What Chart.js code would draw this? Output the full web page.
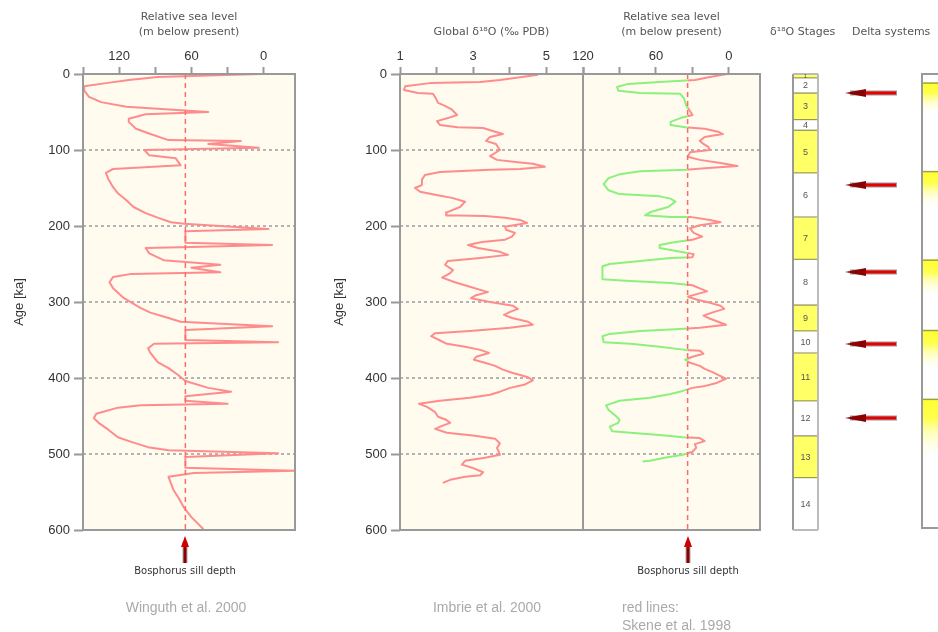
<!DOCTYPE html>
<html><head><meta charset="utf-8">
<script src="https://cdn.jsdelivr.net/npm/chart.js@4.4.1/dist/chart.umd.min.js"></script>
<style>
html,body{margin:0;padding:0;background:#fff;overflow:hidden;width:938px;height:632px;}
canvas{position:absolute;left:0;top:0;}
.t{position:absolute;white-space:nowrap;line-height:16px;}
</style></head><body>
<canvas id="cA" width="938" height="632"></canvas>
<canvas id="cB" width="938" height="632"></canvas>
<canvas id="cC" width="938" height="632"></canvas>
<canvas id="cS" width="938" height="632"></canvas>
<canvas id="cD" width="938" height="632"></canvas>
<div class="t" style="left:770px;top:25px;font:11px 'DejaVu Sans',sans-serif;color:#555">δ¹⁸O Stages</div>
<div class="t" style="left:852px;top:25px;font:11px 'DejaVu Sans',sans-serif;color:#555">Delta systems</div>
<div class="t" style="left:86px;width:200px;text-align:center;top:599px;font:14px 'Liberation Sans',Arial,sans-serif;color:#aaa">Winguth et al. 2000</div>
<div class="t" style="left:387px;width:200px;text-align:center;top:599px;font:14px 'Liberation Sans',Arial,sans-serif;color:#aaa">Imbrie et al. 2000</div>
<div class="t" style="left:622px;top:599px;font:14px 'Liberation Sans',Arial,sans-serif;color:#aaa">red lines:</div>
<div class="t" style="left:622px;top:617px;font:14px 'Liberation Sans',Arial,sans-serif;color:#aaa">Skene et al. 1998</div>
<script>
// ---------- data ----------
const ageTicks = [0,100,200,300,400,500,600];
const ageGrid = [100,200,300,400,500];
const seaTicksLeft = [0,30,60,90,120,150];
const seaTicksRight = [0,30,60,90,120];
const seaLabels = [0,60,120];
const d18OTicks = [1,2,3,4,5,6];
const d18OLabels = [1,3,5];
const sillDepthLeft = 65;
const sillDepthRight = 34;

const wingAge = [0,4,8,12,16,22,30,37,43,46,
 50,53,59,63,72,79,87,88,92,97,
 100,107,111,120,125,130,138,149,157,166,
 175,183,189,195,197,204,207,222,225,228,
 229,236,245,251,255,261,263,267,274,282,
 295,308,314,321,326,332,337,350,353,355,
 361,367,379,387,396,404,413,418,424,430,
 434,436,439,447,453,459,468,478,484,491,
 495,499,504,518,522,525,530,547,557,571,
 583,591,599];
const wingLevel = [2.5,88,112,131,149,149,145,135,114,85,
 46,98,112,112,106,94,79,19,46,4,
 99,95,73,69,125,131,129,125,121,114,
 108,98,88,77,66,-4,65,65,-7,69,
 98,95,83,36,60,36,110,125,128,125,
 116,102,94,79,69,-7,65,65,-12,91,
 96,94,88,79,71,65,46,27,65,65,
 30,102,121,139,141,137,129,121,110,96,
 79,-12,65,65,-26,58,79,75,71,66,
 60,55,50];

const imbrieAge = [1,4,8,10.5,12,16,21,25,26,32,
 38,42,47,54,58,62,67,70,71,76,
 79,83,88,92,100,108,113,116,118,122,
 125,126,129,133,139,146,150,155,159,163,
 168,175,182,186,187,189,192,196,201,205,
 209,214,218,221,225,229,234,238,242,246,
 251,258,262,268,274,280,287,291,295,300,
 305,309,313,317,321,326,330,334,338,341,
 345,350,355,359,363,367,372,376,380,384,
 389,393,399,403,409,413,418,422,426,430,
 434,438,445,451,455,459,463,467,472,476,
 480,486,492,497,501,505,509,514,518,524,
 528,530,534,538];
const imbrieD18O = [4.77,4.33,3.73,3.19,1.82,1.14,1.11,1.49,1.90,1.98,
 2.04,2.23,2.42,2.56,2.31,2.01,2.09,2.58,3.27,3.60,
 3.81,3.46,3.35,3.62,3.73,3.46,3.65,4.22,4.63,4.96,
 4.28,3.46,2.09,1.68,1.60,1.60,1.41,1.55,1.96,2.42,
 2.78,2.64,2.28,2.26,3.32,3.87,4.28,4.47,3.87,3.90,
 4.14,4.06,3.87,3.24,2.86,3.13,3.73,3.95,3.19,2.31,
 2.23,2.45,2.37,2.15,2.50,2.91,3.40,3.08,2.94,3.46,
 4.09,4.22,4.01,3.84,4.06,4.50,4.63,4.01,2.91,1.96,
 1.85,2.07,2.28,2.78,3.19,3.43,3.08,3.02,3.32,3.60,
 3.81,4.06,4.50,4.63,4.39,4.01,3.73,3.46,2.91,2.09,
 1.52,1.74,1.96,2.04,2.26,2.37,2.15,1.96,2.28,3.05,
 3.60,3.73,3.65,3.70,3.73,3.32,2.78,2.69,2.97,3.27,
 3.19,2.78,2.37,2.17];

const skeneAge = [0,4,8,10.5,13,17,22,25,26,32,
 42,49,54,58,63,67,70,72,76,79,
 83,88,92,96,100,103,109,113,117,121,
 124,126,128,132,137,145,153,158,161,164,
 168,175,182,186,188,188,192,195,199,203,
 209,214,218,221,225,229,234,237,241,242,
 246,250,253,270,272,275,278,282,286,289,
 293,297,301,305,309,314,318,321,326,330,
 334,336,338,342,345,353,355,359,363,364,
 368,372,376,380,384,388,392,396,401,407,
 411,413,417,421,426,430,436,442,446,450,
 455,459,464,470,472,475,478,479,483,487,
 492,497,501,505,509,510];
const skeneLevel = [1.6,15.6,28,57,83,92,91,73,40,37,
 35,32,30,40,48,48,36,20,9,5,
 20,24,21,17,15.6,32,34,24,7,-7,
 20,35,73,90,99,103,99,90,57,48,
 44,50,65,69,48,32,15.6,7,24,32,
 29,22,30,44,57,57,40,29,30,48,
 73,98,104,104,85,48,30,24,18,25,
 34,26,15.6,7,4,14,21,17,9,2.5,
 24,44,73,98,104,103,81,57,36,24,
 21,30,36,32,24,20,14,9,2.5,11,
 21,30,38,48,65,90,101,99,96,93,
 90,91,98,96,81,57,38,24,20,28,
 27,30,38,53,65,71];

const stageNumbers = [1,2,3,4,5,6,7,8,9,10,11,12,13,14];
const stageStart = [0,5,25,60,74,130,188,244,304,338,367,430,476,531];
const stageEnd   = [5,25,60,74,130,188,244,304,338,367,430,476,531,600];

const deltaStart = [12,129,246,339,430];
const deltaEnd   = [51,174,292,389,504];
const arrowAges  = [25,147,262,357,455];

// ---------- styles ----------
const W = 938, H = 632;
const CREAM = '#fffbee';
const LINE_RED = '#ff8c8c';
const LINE_GREEN = '#8cf07c';
Chart.defaults.font.family = '"Liberation Sans", Arial, sans-serif';
Chart.defaults.color = '#333';

function fixedTicks(list){ return s => { s.ticks = list.map(v => ({value: v})); }; }

function frame(sides, grid){
  return {
    id: 'frame',
    beforeDraw(chart){
      const {ctx, chartArea: a} = chart;
      ctx.save();
      ctx.fillStyle = CREAM;
      ctx.fillRect(a.left, a.top, a.right - a.left, a.bottom - a.top);
      if (grid) {
        const ys = chart.scales.y;
        ctx.setLineDash([3,3]);
        ctx.strokeStyle = '#b4b4b4';
        ctx.lineWidth = 2;
        grid.forEach(v => {
          const y = Math.round(ys.getPixelForValue(v));
          ctx.beginPath(); ctx.moveTo(a.left, y); ctx.lineTo(a.right, y); ctx.stroke();
        });
      }
      ctx.restore();
    },
    afterDatasetsDraw(chart){
      const {ctx, chartArea: a} = chart;
      ctx.save();
      ctx.strokeStyle = '#999';
      ctx.lineWidth = 2;
      ctx.beginPath();
      if (sides.includes('t')) { ctx.moveTo(a.left-1, a.top); ctx.lineTo(a.right+1, a.top); }
      if (sides.includes('b')) { ctx.moveTo(a.left-1, a.bottom); ctx.lineTo(a.right+1, a.bottom); }
      if (sides.includes('l')) { ctx.moveTo(a.left, a.top); ctx.lineTo(a.left, a.bottom); }
      if (sides.includes('r')) { ctx.moveTo(a.right, a.top); ctx.lineTo(a.right, a.bottom); }
      ctx.stroke();
      ctx.restore();
    }
  };
}

function sillArrow(sill){
  return {
    id: 'sillArrow',
    afterDraw(chart){
      const {ctx, chartArea: a} = chart;
      const x = Math.round(chart.scales.x.getPixelForValue(sill));
      const y0 = a.bottom + 6, y1 = a.bottom + 33;
      ctx.save();
      ctx.lineCap = 'butt';
      ctx.strokeStyle = '#a8a8a8'; ctx.lineWidth = 5;
      ctx.beginPath(); ctx.moveTo(x, y0 + 6); ctx.lineTo(x, y1); ctx.stroke();
      ctx.strokeStyle = '#8b0000'; ctx.lineWidth = 3;
      ctx.beginPath(); ctx.moveTo(x, y0 + 8); ctx.lineTo(x, y1); ctx.stroke();
      ctx.fillStyle = '#d00000';
      ctx.beginPath(); ctx.moveTo(x, y0); ctx.lineTo(x - 4, y0 + 11); ctx.lineTo(x + 4, y0 + 11); ctx.closePath(); ctx.fill();
      ctx.fillStyle = '#333';
      ctx.font = '10px "DejaVu Sans", sans-serif';
      ctx.textAlign = 'center'; ctx.textBaseline = 'middle';
      ctx.fillText('Bosphorus sill depth', x, a.bottom + 41);
      ctx.restore();
    }
  };
}

function pts(xs, ys){ return xs.map((v, i) => ({x: v, y: ys[i]})); }

const baseOpts = {
  responsive: false, animation: false, events: [],
  plugins: {legend: {display: false}, tooltip: {enabled: false}}
};

function yAxis(width, show){
  if (!show) return {type:'linear', display:false, min:0, max:600, reverse:true};
  return {
    type:'linear', min:0, max:600, reverse:true,
    afterBuildTicks: fixedTicks(ageTicks),
    afterFit: s => { s.width = width; },
    ticks: {font:{size:13}, color:'#333', padding:4},
    grid: {drawOnChartArea:false, drawTicks:true, tickLength:9, tickColor:'#999', tickWidth:2},
    border: {display:false},
    title: {display:true, text:'Age [ka]', font:{size:13}, color:'#333', padding:{top:12, bottom:0}}
  };
}
function xAxis(min, max, reverse, ticks, labels, title, titlePad){
  return {
    type:'linear', position:'top', min, max, reverse,
    afterBuildTicks: fixedTicks(ticks),
    afterFit: s => { s.height = 74; },
    ticks: {callback: v => labels.includes(v) ? String(v) : '', font:{size:13}, color:'#333', padding:3, maxRotation:0, autoSkip:false},
    grid: {drawOnChartArea:false, drawTicks:true, tickLength:7, tickColor:'#999', tickWidth:2},
    border: {display:false},
    title: {display:true, text:title, font:{family:'"DejaVu Sans", sans-serif', size:11, lineHeight:1.36}, color:'#555', padding:{top:titlePad, bottom:0}}
  };
}

// ---------- chart A: Winguth sea level ----------
new Chart(document.getElementById('cA'), {
  type: 'scatter',
  data: {datasets: [
    {data: [{x:sillDepthLeft, y:0},{x:sillDepthLeft, y:600}], showLine:true, borderColor:'#ff6b6b', borderDash:[5,4], borderWidth:1.5, pointRadius:0, order:0},
    {data: pts(wingLevel, wingAge), showLine:true, borderColor:LINE_RED, borderWidth:2, borderJoinStyle:'round', pointRadius:0, order:1}
  ]},
  options: Object.assign({}, baseOpts, {
    layout: {padding: {left:0, right:W-295, top:0, bottom:H-530}},
    scales: {
      x: xAxis(-26, 150, true, seaTicksLeft, seaLabels, ['Relative sea level','(m below present)'], 9.5),
      y: yAxis(83, true)
    }
  }),
  plugins: [frame('tblr', ageGrid), sillArrow(sillDepthLeft)]
});

// ---------- chart B: Imbrie d18O ----------
new Chart(document.getElementById('cB'), {
  type: 'scatter',
  data: {datasets: [
    {data: pts(imbrieD18O, imbrieAge), showLine:true, borderColor:LINE_RED, borderWidth:2, borderJoinStyle:'round', pointRadius:0}
  ]},
  options: Object.assign({}, baseOpts, {
    layout: {padding: {left:320, right:W-583, top:0, bottom:H-530}},
    scales: {
      x: xAxis(1, 6, false, d18OTicks, d18OLabels, 'Global δ¹⁸O (‰ PDB)', 24.5),
      y: yAxis(80, true)
    }
  }),
  plugins: [frame('tblr', ageGrid)]
});

// ---------- chart C: Skene sea level ----------
function sillGradient(ctx){
  const c = ctx.chart, a = c.chartArea;
  if (!a || !c.scales.x) return LINE_RED;
  const px = c.scales.x.getPixelForValue(sillDepthRight);
  const f = Math.min(1, Math.max(0, (px - a.left) / (a.right - a.left)));
  const g = c.ctx.createLinearGradient(a.left, 0, a.right, 0);
  g.addColorStop(0, LINE_GREEN); g.addColorStop(f, LINE_GREEN);
  g.addColorStop(f, LINE_RED); g.addColorStop(1, LINE_RED);
  return g;
}
new Chart(document.getElementById('cC'), {
  type: 'scatter',
  data: {datasets: [
    {data: [{x:sillDepthRight, y:0},{x:sillDepthRight, y:600}], showLine:true, borderColor:'#ff6b6b', borderDash:[5,4], borderWidth:1.5, pointRadius:0, order:0},
    {data: pts(skeneLevel, skeneAge), showLine:true, borderColor:sillGradient, borderWidth:2, borderJoinStyle:'round', pointRadius:0, order:1}
  ]},
  options: Object.assign({}, baseOpts, {
    layout: {padding: {left:583, right:W-760, top:0, bottom:H-530}},
    scales: {
      x: xAxis(-25.5, 120, true, seaTicksRight, seaLabels, ['Relative sea level','(m below present)'], 9.5),
      y: yAxis(0, false)
    }
  }),
  plugins: [frame('tblr', ageGrid), sillArrow(sillDepthRight)]
});

// ---------- chart S: isotope stages ----------
new Chart(document.getElementById('cS'), {
  type: 'bar',
  data: {
    labels: ['MIS'],
    datasets: stageNumbers.map((n, i) => ({
      label: String(n),
      data: [[stageStart[i], stageEnd[i]]],
      backgroundColor: n % 2 ? '#ffff66' : '#ffffff',
      borderColor: n % 2 ? '#9c9c3a' : '#a8a8a8',
      borderWidth: 1, borderSkipped: false, grouped: false,
      barPercentage: 1, categoryPercentage: 1
    }))
  },
  options: Object.assign({}, baseOpts, {
    layout: {padding: {left:793, right:W-818, top:74, bottom:H-530}},
    scales: {
      x: {display:false},
      y: {display:false, min:0, max:600, reverse:true}
    }
  }),
  plugins: [{
    id: 'stageLabels',
    afterDatasetsDraw(chart){
      const {ctx, chartArea: a} = chart;
      const ys = chart.scales.y;
      ctx.save();
      ctx.strokeStyle = '#999'; ctx.lineWidth = 2;
      ctx.beginPath(); ctx.moveTo(a.left, a.top); ctx.lineTo(a.left, a.bottom); ctx.stroke();
      ctx.strokeStyle = '#bbb';
      ctx.beginPath(); ctx.moveTo(a.right, a.top); ctx.lineTo(a.right, a.bottom);
      ctx.moveTo(a.left, a.top); ctx.lineTo(a.right, a.top);
      ctx.moveTo(a.left, a.bottom); ctx.lineTo(a.right, a.bottom); ctx.stroke();
      ctx.fillStyle = '#555';
      ctx.textAlign = 'center'; ctx.textBaseline = 'middle';
      stageNumbers.forEach((n, i) => {
        const y0 = ys.getPixelForValue(stageStart[i]), y1 = ys.getPixelForValue(stageEnd[i]);
        ctx.font = (y1 - y0 < 10 ? 6 : 9) + 'px "Liberation Sans", Arial, sans-serif';
        ctx.fillText(String(n), (a.left + a.right) / 2, (y0 + y1) / 2 + 0.5);
      });
      ctx.restore();
    }
  }]
});

// ---------- chart D: delta systems ----------
function deltaFill(ctx){
  const c = ctx.chart, raw = ctx.raw;
  if (!c.chartArea || !raw || !c.scales.y) return '#ffff44';
  const y0 = c.scales.y.getPixelForValue(raw[0]), y1 = c.scales.y.getPixelForValue(raw[1]);
  const g = c.ctx.createLinearGradient(0, y0, 0, y1);
  g.addColorStop(0, '#ffff30');
  g.addColorStop(0.35, '#ffff50');
  g.addColorStop(0.6, 'rgba(255,255,140,0.6)');
  g.addColorStop(1, 'rgba(255,255,200,0)');
  return g;
}
new Chart(document.getElementById('cD'), {
  type: 'bar',
  data: {
    labels: ['Delta'],
    datasets: deltaStart.map((s, i) => ({
      data: [[s, deltaEnd[i]]],
      backgroundColor: deltaFill, borderWidth: 0, grouped: false,
      barPercentage: 1, categoryPercentage: 1
    }))
  },
  options: Object.assign({}, baseOpts, {
    layout: {padding: {left:922, right:0, top:74, bottom:H-528}},
    scales: {
      x: {display:false},
      y: {display:false, min:0, max:600, reverse:true}
    }
  }),
  plugins: [{
    id: 'deltaDeco',
    afterDraw(chart){
      const {ctx, chartArea: a} = chart;
      const ys = chart.scales.y;
      ctx.save();
      ctx.strokeStyle = '#999'; ctx.lineWidth = 2;
      ctx.beginPath();
      ctx.moveTo(W, a.top); ctx.lineTo(a.left, a.top); ctx.lineTo(a.left, a.bottom); ctx.lineTo(W, a.bottom);
      ctx.stroke();
      ctx.strokeStyle = '#a0a040'; ctx.lineWidth = 1.5;
      deltaStart.forEach(s => {
        const y = ys.getPixelForValue(s);
        ctx.beginPath(); ctx.moveTo(a.left + 1, y); ctx.lineTo(W, y); ctx.stroke();
      });
      arrowAges.forEach(age => {
        const y = Math.round(ys.getPixelForValue(age));
        ctx.lineCap = 'butt';
        ctx.strokeStyle = '#9a9a9a'; ctx.lineWidth = 5;
        ctx.beginPath(); ctx.moveTo(850, y); ctx.lineTo(897, y); ctx.stroke();
        ctx.strokeStyle = '#e80000'; ctx.lineWidth = 3;
        ctx.beginPath(); ctx.moveTo(852, y); ctx.lineTo(896, y); ctx.stroke();
        ctx.fillStyle = '#8b0000';
        ctx.beginPath(); ctx.moveTo(845, y); ctx.lineTo(866, y - 4); ctx.lineTo(866, y + 4); ctx.closePath(); ctx.fill();
      });
      ctx.restore();
    }
  }]
});
</script>
</body></html>
